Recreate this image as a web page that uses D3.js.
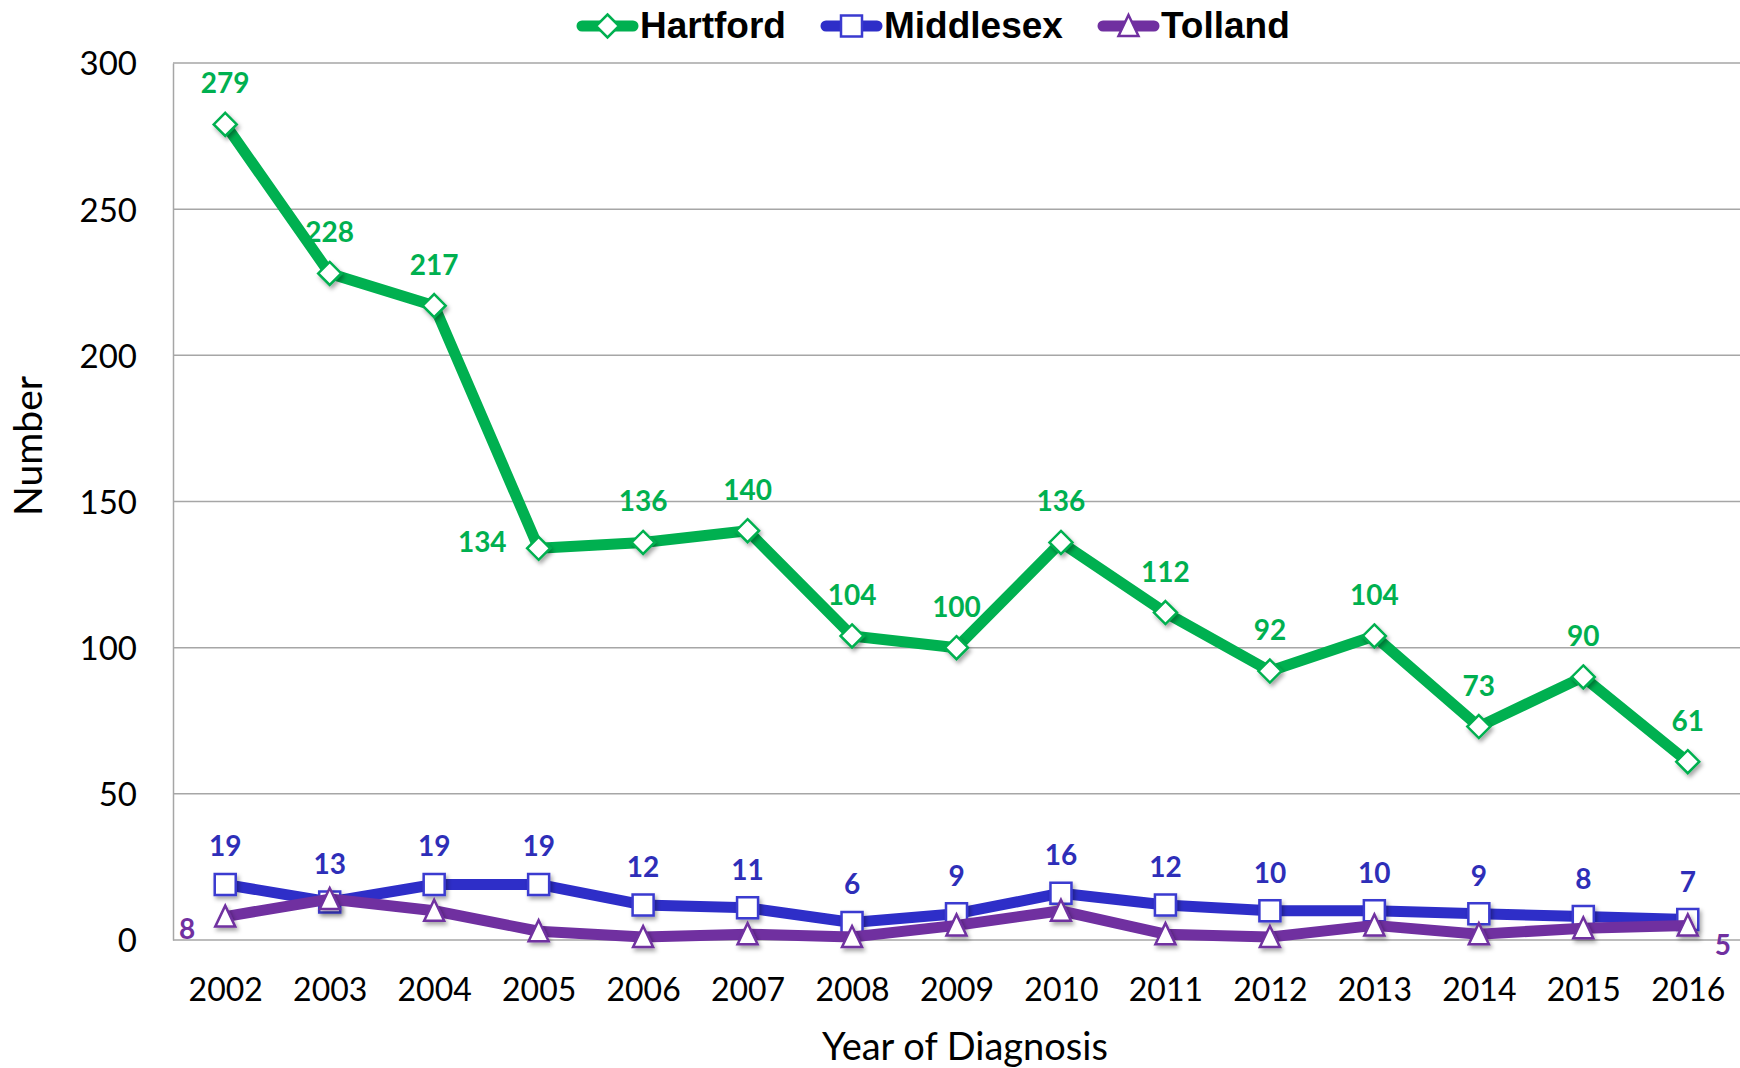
<!DOCTYPE html>
<html>
<head>
<meta charset="utf-8">
<script src="https://cdn.jsdelivr.net/npm/d3@7"></script>
<style>
  html, body { margin: 0; padding: 0; background: #fff; }
  svg { display: block; }
</style>
</head>
<body>
<svg id="chart" width="1740" height="1068"></svg>
<script>
const years = ["2002","2003","2004","2005","2006","2007","2008","2009","2010","2011","2012","2013","2014","2015","2016"];
const hartford  = [279, 228, 217, 134, 136, 140, 104, 100, 136, 112, 92, 104, 73, 90, 61];
const middlesex = [19, 13, 19, 19, 12, 11, 6, 9, 16, 12, 10, 10, 9, 8, 7];
const tolland   = [8, 14, 10, 3, 1, 2, 1, 5, 10, 2, 1, 5, 2, 4, 5];
const yTicks = [0, 50, 100, 150, 200, 250, 300];
const seriesNames = ["Hartford", "Middlesex", "Tolland"];

const W = 1740, H = 1068;
const margin = {left: 173, right: 0, top: 63, bottom: 128};
const svg = d3.select("#chart");

const defs = svg.append("defs");
const f = defs.append("filter").attr("id", "shadow").attr("x", "-50%").attr("y", "-50%").attr("width", "200%").attr("height", "200%");
f.append("feDropShadow").attr("dx", 2).attr("dy", 3).attr("stdDeviation", 2).attr("flood-color", "#000").attr("flood-opacity", 0.35);

const x = d3.scalePoint().domain(years).range([margin.left, W - margin.right]).padding(0.5);
const y = d3.scaleLinear().domain([0, 300]).range([940, margin.top]);

const tickFont = "Lato, 'Open Sans', sans-serif";

// gridlines
svg.append("g").selectAll("line").data(yTicks.filter(d => d > 0)).join("line")
  .attr("x1", margin.left).attr("x2", W)
  .attr("y1", d => y(d)).attr("y2", d => y(d))
  .attr("stroke", "#a6a6a6").attr("stroke-width", 1.5);

// axes
const yAxis = svg.append("g").attr("transform", `translate(${margin.left},0)`)
  .call(d3.axisLeft(y).tickValues(yTicks).tickSize(0).tickPadding(36));
yAxis.select(".domain").attr("stroke", "#a6a6a6").attr("stroke-width", 1.5);
yAxis.selectAll("text").attr("font-family", tickFont).attr("font-size", 33).attr("fill", "#000").attr("dy", "0.36em");

const xAxis = svg.append("g").attr("transform", `translate(0,${y(0)})`)
  .call(d3.axisBottom(x).tickSize(0).tickPadding(61));
xAxis.select(".domain").attr("stroke", "#a6a6a6").attr("stroke-width", 1.5).attr("d", `M${margin.left},0H${W}`);
xAxis.selectAll("text").attr("font-family", tickFont).attr("font-size", 32).attr("fill", "#000").attr("dy", "0");

// axis titles
svg.append("text").attr("x", 965).attr("y", 1060).attr("text-anchor", "middle")
  .attr("font-family", tickFont).attr("font-size", 38).attr("fill", "#000").text("Year of Diagnosis");
svg.append("text").attr("transform", "translate(42,446) rotate(-90)").attr("text-anchor", "middle")
  .attr("font-family", tickFont).attr("font-size", 39).attr("fill", "#000").text("Number");

const series = [
  {name: seriesNames[0], values: hartford,  line: "#00b050", stroke: "#00b050", label: "#00b050", shape: "diamond"},
  {name: seriesNames[1], values: middlesex, line: "#2e2ec8", stroke: "#3a3ad0", label: "#2e2eb8", shape: "square"},
  {name: seriesNames[2], values: tolland,   line: "#7030a0", stroke: "#7030a0", label: "#7030a0", shape: "triangle"}
];

function markerPath(shape) {
  if (shape === "diamond") return "M0,-11.5L11.5,0L0,11.5L-11.5,0Z";
  if (shape === "square") return "M-10.5,-10.5H10.5V10.5H-10.5Z";
  return "M0,-11L10,10H-10Z";
}

const line = d3.line().x((d, i) => x(years[i])).y(d => y(d));

series.forEach(s => {
  svg.append("path").datum(s.values).attr("d", line)
    .attr("fill", "none").attr("stroke", s.line).attr("stroke-width", 11)
    .attr("stroke-linejoin", "round").attr("stroke-linecap", "round");
  svg.append("g").selectAll("path").data(s.values).join("path")
    .attr("transform", (d, i) => `translate(${x(years[i])},${y(d)})`)
    .attr("d", markerPath(s.shape))
    .attr("fill", "#fff").attr("stroke", s.stroke).attr("stroke-width", 2.5)
    .attr("filter", "url(#shadow)");
});

// data labels
const labelFont = "Lato, 'Open Sans', sans-serif";
svg.append("g").selectAll("text").data(hartford).join("text")
  .attr("x", (d, i) => i === 3 ? x(years[i]) - 32 : x(years[i]))
  .attr("y", (d, i) => i === 3 ? y(d) + 4 : y(d) - 31)
  .attr("text-anchor", (d, i) => i === 3 ? "end" : "middle")
  .attr("font-family", labelFont).attr("font-weight", 700).attr("font-size", 28)
  .attr("fill", series[0].label).text(d => d);
svg.append("g").selectAll("text").data(middlesex).join("text")
  .attr("x", (d, i) => x(years[i]))
  .attr("y", (d, i) => y(d) - 28)
  .attr("text-anchor", "middle")
  .attr("font-family", labelFont).attr("font-weight", 700).attr("font-size", 28)
  .attr("fill", series[1].label).text(d => d);
const tl = [{i: 0, dx: -30, dy: 22, anchor: "end"}, {i: tolland.length - 1, dx: 27, dy: 30, anchor: "start"}];
svg.append("g").selectAll("text").data(tl).join("text")
  .attr("x", d => x(years[d.i]) + d.dx)
  .attr("y", d => y(tolland[d.i]) + d.dy)
  .attr("text-anchor", d => d.anchor)
  .attr("font-family", labelFont).attr("font-weight", 700).attr("font-size", 28)
  .attr("fill", series[2].label).text(d => tolland[d.i]);

// legend
const legendX = [577, 821, 1098];
const lg = svg.append("g");
series.forEach((s, k) => {
  const g = lg.append("g").attr("transform", `translate(${legendX[k]},26)`);
  g.append("line").attr("x1", 5).attr("x2", 56).attr("y1", 0).attr("y2", 0)
    .attr("stroke", s.line).attr("stroke-width", 11).attr("stroke-linecap", "round");
  g.append("path").attr("transform", "translate(30.5,0)").attr("d", markerPath(s.shape))
    .attr("fill", "#fff").attr("stroke", s.stroke).attr("stroke-width", 2.5);
  g.append("text").attr("x", 63).attr("y", 12)
    .attr("font-family", "'Liberation Sans', Arial, sans-serif").attr("font-weight", 700)
    .attr("font-size", 37).attr("fill", "#000").text(s.name);
});
</script>
</body>
</html>
